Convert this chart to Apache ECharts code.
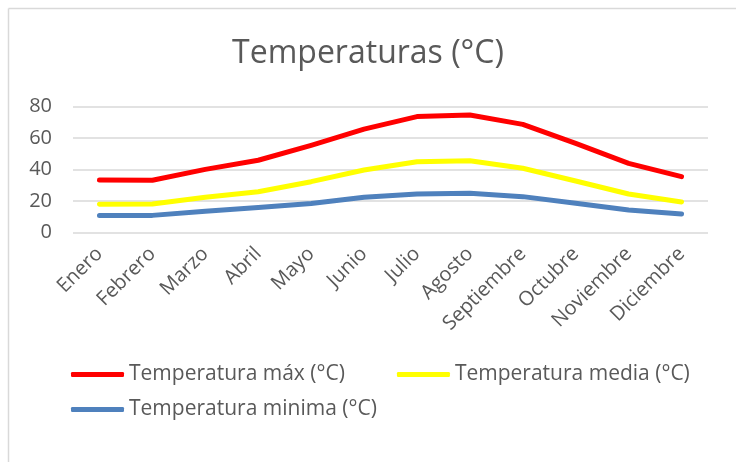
<!DOCTYPE html>
<html>
<head>
<meta charset="utf-8">
<script src="https://cdn.jsdelivr.net/npm/echarts@6/dist/echarts.min.js"></script>
<style>
html,body{margin:0;padding:0;background:#fff;}
#c{width:736px;height:462px;}
</style>
</head>
<body>
<div id="c"></div>
<script>
const categories = ['Enero','Febrero','Marzo','Abril','Mayo','Junio','Julio','Agosto','Septiembre','Octubre','Noviembre','Diciembre'];
const tempMax = [33.5, 33.3, 40.2, 46, 55.5, 65.8, 73.7, 74.7, 68.8, 56.7, 44, 35.6];
const tempMedia = [18, 18.2, 22.5, 26, 32.4, 39.8, 45, 45.7, 40.9, 32.8, 24.6, 19.5];
const tempMin = [11, 11, 13.6, 16, 18.6, 22.5, 24.6, 25, 22.9, 18.7, 14.4, 11.9];
const yTicks = {min: 0, max: 80, interval: 20};
const names = ['Temperatura máx (°C)', 'Temperatura media (°C)', 'Temperatura minima (°C)'];

const FONT = '"Open Sans", sans-serif';
const TXT = '#595959';
const chart = echarts.init(document.getElementById('c'));
chart.setOption({
  animation: false,
  backgroundColor: '#fff',
  graphic: [
    {type: 'line', shape: {x1: 8.5, y1: 8.5, x2: 736, y2: 8.5}, style: {stroke: '#d9d9d9', lineWidth: 1.5}},
    {type: 'line', shape: {x1: 8.5, y1: 8.5, x2: 8.5, y2: 462}, style: {stroke: '#d9d9d9', lineWidth: 1.5}}
  ],
  title: {
    text: 'Temperaturas (°C)',
    left: 'center',
    top: 33,
    textStyle: {fontFamily: FONT, fontSize: 32, fontWeight: 'normal', color: TXT}
  },
  legend: [
    {
      data: [names[0], names[1]],
      left: 66, top: 359,
      itemWidth: 53, itemHeight: 5, itemGap: 52,
      icon: 'roundRect',
      textStyle: {fontFamily: FONT, fontSize: 21, color: TXT}
    },
    {
      data: [names[2]],
      left: 66, top: 394,
      itemWidth: 53, itemHeight: 5,
      icon: 'roundRect',
      textStyle: {fontFamily: FONT, fontSize: 21, color: TXT}
    }
  ],
  grid: {left: 73, right: 28, top: 106.7, bottom: 462 - 232.7, containLabel: false},
  xAxis: {
    type: 'category',
    data: categories,
    boundaryGap: true,
    axisLine: {show: false},
    axisTick: {show: false},
    axisLabel: {rotate: 45, interval: 0, fontFamily: FONT, fontSize: 20, color: TXT, margin: 18}
  },
  yAxis: {
    type: 'value',
    min: yTicks.min, max: yTicks.max, interval: yTicks.interval,
    axisLine: {show: false},
    axisTick: {show: false},
    splitLine: {lineStyle: {color: '#d9d9d9', width: 1.5}},
    axisLabel: {fontFamily: FONT, fontSize: 20, color: TXT, margin: 21}
  },
  series: [
    {name: names[0], type: 'line', data: tempMax, symbol: 'none', color: '#ff0000', lineStyle: {width: 5, cap: 'round', join: 'round'}},
    {name: names[1], type: 'line', data: tempMedia, symbol: 'none', color: '#ffff00', lineStyle: {width: 5, cap: 'round', join: 'round'}},
    {name: names[2], type: 'line', data: tempMin, symbol: 'none', color: '#4f81bd', lineStyle: {width: 5, cap: 'round', join: 'round'}}
  ]
});
</script>
</body>
</html>
